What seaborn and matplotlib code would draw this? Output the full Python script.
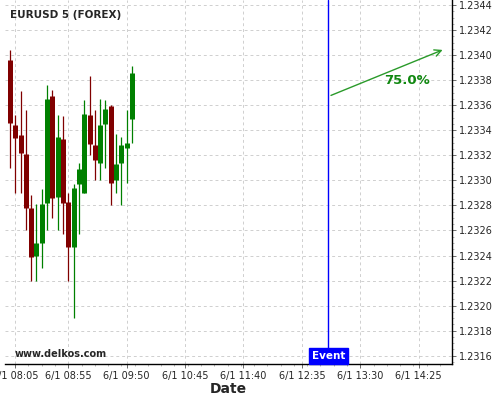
import matplotlib
matplotlib.use("Agg")
import matplotlib.pyplot as plt
import matplotlib.dates as mdates
from matplotlib.ticker import MultipleLocator, FormatStrFormatter, AutoMinorLocator
import pandas as pd
import seaborn as sns

# 5 minute candles, 6/1 08:00 .. 09:55
times = pd.date_range("2018-06-01 08:00", periods=24, freq="5min")
opens = [1.23396, 1.23344, 1.23336, 1.23321, 1.23278, 1.23240, 1.23250, 1.23282,
         1.23367, 1.23287, 1.23333, 1.23283, 1.23247, 1.23297, 1.23290, 1.23352,
         1.23328, 1.23314, 1.23345, 1.23359, 1.23300, 1.23314, 1.23326, 1.23349]
closes = [1.23346, 1.23334, 1.23322, 1.23278, 1.23239, 1.23250, 1.23281, 1.23365,
          1.23286, 1.23335, 1.23282, 1.23247, 1.23294, 1.23309, 1.23353, 1.23329,
          1.23316, 1.23344, 1.23357, 1.23298, 1.23313, 1.23328, 1.23330, 1.23386]
highs = [1.23404, 1.23352, 1.23371, 1.23356, 1.23288, 1.23281, 1.23293, 1.23376,
         1.23372, 1.23352, 1.23351, 1.23290, 1.23297, 1.23314, 1.23364, 1.23383,
         1.23356, 1.23365, 1.23364, 1.23360, 1.23337, 1.23335, 1.23356, 1.23391]
lows = [1.23310, 1.23290, 1.23290, 1.23260, 1.23220, 1.23220, 1.23230, 1.23260,
        1.23270, 1.23260, 1.23257, 1.23220, 1.23190, 1.23257, 1.23290, 1.23320,
        1.23300, 1.23300, 1.23310, 1.23280, 1.23290, 1.23280, 1.23298, 1.23330]

tick_labels = ["6/1 08:05", "6/1 08:55", "6/1 09:50", "6/1 10:45",
               "6/1 11:40", "6/1 12:35", "6/1 13:30", "6/1 14:25"]
event_time = pd.Timestamp("2018-06-01 13:00")
arrow_start = (pd.Timestamp("2018-06-01 13:00"), 1.23367)
arrow_end = (pd.Timestamp("2018-06-01 14:50"), 1.23405)
prob_text = "75.0%"

df = pd.DataFrame({"time": times, "open": opens, "close": closes,
                   "high": highs, "low": lows})
df["color"] = ["#008000" if c >= o else "#800000" for o, c in zip(opens, closes)]

sns.set_style("whitegrid", {"grid.color": "#cfcfcf", "grid.linestyle": (0, (3, 3)),
                            "axes.edgecolor": "black", "xtick.bottom": True,
                            "ytick.right": True})

fig = plt.figure(figsize=(5, 4), dpi=100)
ax = fig.add_axes([0.01, 0.09, 0.894, 0.91])

x = mdates.date2num(df["time"])
colors = list(df["color"])
# wicks then bodies (bodies as thick butt-capped lines so they stay centred)
ax.vlines(x, df["low"], df["high"], colors=colors, lw=0.9, zorder=2)
body_lo = df[["open", "close"]].min(axis=1)
body_hi = df[["open", "close"]].max(axis=1)
bodies = ax.vlines(x, body_lo, body_hi, colors=colors, lw=3.6, zorder=3)
bodies.set_capstyle("butt")

# event line + arrow
ev = mdates.date2num(event_time)
ax.axvline(ev, color="blue", lw=1, zorder=4)
ax.annotate("", xy=(mdates.date2num(arrow_end[0]), arrow_end[1]),
            xytext=(mdates.date2num(arrow_start[0]), arrow_start[1]),
            arrowprops=dict(arrowstyle="->", color="#2a9a2a", lw=1, mutation_scale=12))
ax.text(mdates.date2num(pd.Timestamp("2018-06-01 14:14")), 1.23380, prob_text,
        color="#118811", fontsize=9.5, fontweight="bold", ha="center", va="center")
ax.text(ev, 0.022, "Event", transform=ax.get_xaxis_transform(), color="white",
        fontsize=7.5, fontweight="bold", ha="center", va="center",
        bbox=dict(boxstyle="square,pad=0.25", fc="blue", ec="blue"), zorder=5)

ax.text(0.011, 0.959, "EURUSD 5 (FOREX)", transform=ax.transAxes,
        fontsize=7.5, fontweight="bold", ha="left", va="center")
ax.text(0.022, 0.027, "www.delkos.com", transform=ax.transAxes,
        fontsize=7, fontweight="bold", ha="left", va="center")

# axes
ax.set_xlim(mdates.date2num(pd.Timestamp("2018-06-01 07:55:24")),
            mdates.date2num(pd.Timestamp("2018-06-01 14:56:24")))
ax.set_ylim(1.231534, 1.23444)
tick_times = [pd.Timestamp("2018-06-01 " + t.split()[1]) for t in tick_labels]
ax.set_xticks(mdates.date2num(tick_times))
ax.set_xticklabels(tick_labels)
ax.xaxis.set_minor_locator(AutoMinorLocator(4))
ax.yaxis.tick_right()
ax.yaxis.set_major_locator(MultipleLocator(0.0002))
ax.yaxis.set_minor_locator(MultipleLocator(0.00005))
ax.yaxis.set_major_formatter(FormatStrFormatter("%.4f"))
ax.tick_params(axis="both", which="major", labelsize=7, length=3, width=0.6,
               color="#555555", pad=2)
ax.tick_params(axis="both", which="minor", length=1.5, width=0.5, color="#999999")
ax.grid(True, which="major", lw=0.7)
ax.set_xlabel("Date", fontsize=10, fontweight="bold", labelpad=1)
ax.set_ylabel("")
for s in ["left", "top"]:
    ax.spines[s].set_visible(False)
for s in ["right", "bottom"]:
    ax.spines[s].set_linewidth(1)

fig.savefig("out.png", dpi=100)
